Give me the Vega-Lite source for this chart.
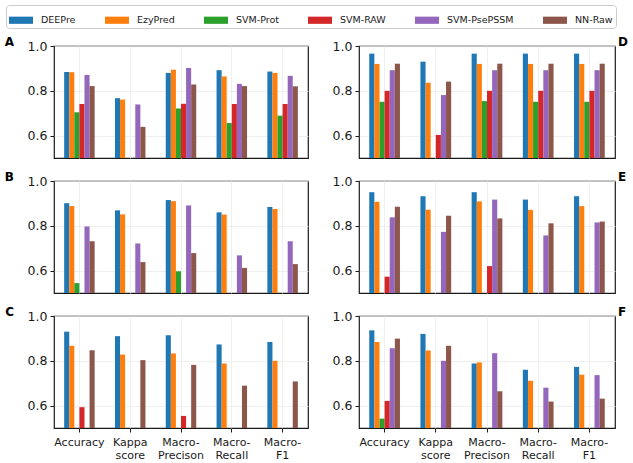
{
  "$schema": "https://vega.github.io/schema/vega-lite/v6.json",
  "description": "Grouped bar panels A-F comparing six enzyme classifiers on five metrics.",
  "padding": {"left": 4, "top": 4, "right": 5, "bottom": 5},
  "background": "white",
  "data": {
    "values": [
      {"panel": "A", "metric": "Accuracy", "model": "DEEPre", "value": 0.884},
      {"panel": "A", "metric": "Accuracy", "model": "EzyPred", "value": 0.883},
      {"panel": "A", "metric": "Accuracy", "model": "SVM-Prot", "value": 0.704},
      {"panel": "A", "metric": "Accuracy", "model": "SVM-RAW", "value": 0.741},
      {"panel": "A", "metric": "Accuracy", "model": "SVM-PsePSSM", "value": 0.871},
      {"panel": "A", "metric": "Accuracy", "model": "NN-Raw", "value": 0.821},
      {"panel": "A", "metric": "Kappa score", "model": "DEEPre", "value": 0.767},
      {"panel": "A", "metric": "Kappa score", "model": "EzyPred", "value": 0.761},
      {"panel": "A", "metric": "Kappa score", "model": "SVM-PsePSSM", "value": 0.739},
      {"panel": "A", "metric": "Kappa score", "model": "NN-Raw", "value": 0.639},
      {"panel": "A", "metric": "Macro-Precison", "model": "DEEPre", "value": 0.880},
      {"panel": "A", "metric": "Macro-Precison", "model": "EzyPred", "value": 0.894},
      {"panel": "A", "metric": "Macro-Precison", "model": "SVM-Prot", "value": 0.721},
      {"panel": "A", "metric": "Macro-Precison", "model": "SVM-RAW", "value": 0.742},
      {"panel": "A", "metric": "Macro-Precison", "model": "SVM-PsePSSM", "value": 0.902},
      {"panel": "A", "metric": "Macro-Precison", "model": "NN-Raw", "value": 0.828},
      {"panel": "A", "metric": "Macro-Recall", "model": "DEEPre", "value": 0.892},
      {"panel": "A", "metric": "Macro-Recall", "model": "EzyPred", "value": 0.864},
      {"panel": "A", "metric": "Macro-Recall", "model": "SVM-Prot", "value": 0.656},
      {"panel": "A", "metric": "Macro-Recall", "model": "SVM-RAW", "value": 0.741},
      {"panel": "A", "metric": "Macro-Recall", "model": "SVM-PsePSSM", "value": 0.831},
      {"panel": "A", "metric": "Macro-Recall", "model": "NN-Raw", "value": 0.821},
      {"panel": "A", "metric": "Macro-F1", "model": "DEEPre", "value": 0.886},
      {"panel": "A", "metric": "Macro-F1", "model": "EzyPred", "value": 0.880},
      {"panel": "A", "metric": "Macro-F1", "model": "SVM-Prot", "value": 0.689},
      {"panel": "A", "metric": "Macro-F1", "model": "SVM-RAW", "value": 0.741},
      {"panel": "A", "metric": "Macro-F1", "model": "SVM-PsePSSM", "value": 0.867},
      {"panel": "A", "metric": "Macro-F1", "model": "NN-Raw", "value": 0.820},

      {"panel": "B", "metric": "Accuracy", "model": "DEEPre", "value": 0.901},
      {"panel": "B", "metric": "Accuracy", "model": "EzyPred", "value": 0.888},
      {"panel": "B", "metric": "Accuracy", "model": "SVM-Prot", "value": 0.544},
      {"panel": "B", "metric": "Accuracy", "model": "SVM-PsePSSM", "value": 0.797},
      {"panel": "B", "metric": "Accuracy", "model": "NN-Raw", "value": 0.731},
      {"panel": "B", "metric": "Kappa score", "model": "DEEPre", "value": 0.869},
      {"panel": "B", "metric": "Kappa score", "model": "EzyPred", "value": 0.851},
      {"panel": "B", "metric": "Kappa score", "model": "SVM-PsePSSM", "value": 0.721},
      {"panel": "B", "metric": "Kappa score", "model": "NN-Raw", "value": 0.638},
      {"panel": "B", "metric": "Macro-Precison", "model": "DEEPre", "value": 0.915},
      {"panel": "B", "metric": "Macro-Precison", "model": "EzyPred", "value": 0.910},
      {"panel": "B", "metric": "Macro-Precison", "model": "SVM-Prot", "value": 0.597},
      {"panel": "B", "metric": "Macro-Precison", "model": "SVM-PsePSSM", "value": 0.891},
      {"panel": "B", "metric": "Macro-Precison", "model": "NN-Raw", "value": 0.678},
      {"panel": "B", "metric": "Macro-Recall", "model": "DEEPre", "value": 0.860},
      {"panel": "B", "metric": "Macro-Recall", "model": "EzyPred", "value": 0.850},
      {"panel": "B", "metric": "Macro-Recall", "model": "SVM-PsePSSM", "value": 0.668},
      {"panel": "B", "metric": "Macro-Recall", "model": "NN-Raw", "value": 0.612},
      {"panel": "B", "metric": "Macro-F1", "model": "DEEPre", "value": 0.884},
      {"panel": "B", "metric": "Macro-F1", "model": "EzyPred", "value": 0.875},
      {"panel": "B", "metric": "Macro-F1", "model": "SVM-PsePSSM", "value": 0.731},
      {"panel": "B", "metric": "Macro-F1", "model": "NN-Raw", "value": 0.629},

      {"panel": "C", "metric": "Accuracy", "model": "DEEPre", "value": 0.930},
      {"panel": "C", "metric": "Accuracy", "model": "EzyPred", "value": 0.867},
      {"panel": "C", "metric": "Accuracy", "model": "SVM-RAW", "value": 0.593},
      {"panel": "C", "metric": "Accuracy", "model": "NN-Raw", "value": 0.847},
      {"panel": "C", "metric": "Kappa score", "model": "DEEPre", "value": 0.910},
      {"panel": "C", "metric": "Kappa score", "model": "EzyPred", "value": 0.828},
      {"panel": "C", "metric": "Kappa score", "model": "NN-Raw", "value": 0.803},
      {"panel": "C", "metric": "Macro-Precison", "model": "DEEPre", "value": 0.914},
      {"panel": "C", "metric": "Macro-Precison", "model": "EzyPred", "value": 0.833},
      {"panel": "C", "metric": "Macro-Precison", "model": "SVM-RAW", "value": 0.554},
      {"panel": "C", "metric": "Macro-Precison", "model": "NN-Raw", "value": 0.782},
      {"panel": "C", "metric": "Macro-Recall", "model": "DEEPre", "value": 0.873},
      {"panel": "C", "metric": "Macro-Recall", "model": "EzyPred", "value": 0.788},
      {"panel": "C", "metric": "Macro-Recall", "model": "NN-Raw", "value": 0.689},
      {"panel": "C", "metric": "Macro-F1", "model": "DEEPre", "value": 0.884},
      {"panel": "C", "metric": "Macro-F1", "model": "EzyPred", "value": 0.800},
      {"panel": "C", "metric": "Macro-F1", "model": "NN-Raw", "value": 0.708},

      {"panel": "D", "metric": "Accuracy", "model": "DEEPre", "value": 0.966},
      {"panel": "D", "metric": "Accuracy", "model": "EzyPred", "value": 0.920},
      {"panel": "D", "metric": "Accuracy", "model": "SVM-Prot", "value": 0.751},
      {"panel": "D", "metric": "Accuracy", "model": "SVM-RAW", "value": 0.800},
      {"panel": "D", "metric": "Accuracy", "model": "SVM-PsePSSM", "value": 0.892},
      {"panel": "D", "metric": "Accuracy", "model": "NN-Raw", "value": 0.921},
      {"panel": "D", "metric": "Kappa score", "model": "DEEPre", "value": 0.930},
      {"panel": "D", "metric": "Kappa score", "model": "EzyPred", "value": 0.836},
      {"panel": "D", "metric": "Kappa score", "model": "SVM-RAW", "value": 0.603},
      {"panel": "D", "metric": "Kappa score", "model": "SVM-PsePSSM", "value": 0.781},
      {"panel": "D", "metric": "Kappa score", "model": "NN-Raw", "value": 0.841},
      {"panel": "D", "metric": "Macro-Precison", "model": "DEEPre", "value": 0.966},
      {"panel": "D", "metric": "Macro-Precison", "model": "EzyPred", "value": 0.920},
      {"panel": "D", "metric": "Macro-Precison", "model": "SVM-Prot", "value": 0.754},
      {"panel": "D", "metric": "Macro-Precison", "model": "SVM-RAW", "value": 0.800},
      {"panel": "D", "metric": "Macro-Precison", "model": "SVM-PsePSSM", "value": 0.892},
      {"panel": "D", "metric": "Macro-Precison", "model": "NN-Raw", "value": 0.921},
      {"panel": "D", "metric": "Macro-Recall", "model": "DEEPre", "value": 0.966},
      {"panel": "D", "metric": "Macro-Recall", "model": "EzyPred", "value": 0.920},
      {"panel": "D", "metric": "Macro-Recall", "model": "SVM-Prot", "value": 0.751},
      {"panel": "D", "metric": "Macro-Recall", "model": "SVM-RAW", "value": 0.800},
      {"panel": "D", "metric": "Macro-Recall", "model": "SVM-PsePSSM", "value": 0.892},
      {"panel": "D", "metric": "Macro-Recall", "model": "NN-Raw", "value": 0.921},
      {"panel": "D", "metric": "Macro-F1", "model": "DEEPre", "value": 0.966},
      {"panel": "D", "metric": "Macro-F1", "model": "EzyPred", "value": 0.920},
      {"panel": "D", "metric": "Macro-F1", "model": "SVM-Prot", "value": 0.751},
      {"panel": "D", "metric": "Macro-F1", "model": "SVM-RAW", "value": 0.800},
      {"panel": "D", "metric": "Macro-F1", "model": "SVM-PsePSSM", "value": 0.892},
      {"panel": "D", "metric": "Macro-F1", "model": "NN-Raw", "value": 0.921},

      {"panel": "E", "metric": "Accuracy", "model": "DEEPre", "value": 0.950},
      {"panel": "E", "metric": "Accuracy", "model": "EzyPred", "value": 0.907},
      {"panel": "E", "metric": "Accuracy", "model": "SVM-RAW", "value": 0.573},
      {"panel": "E", "metric": "Accuracy", "model": "SVM-PsePSSM", "value": 0.838},
      {"panel": "E", "metric": "Accuracy", "model": "NN-Raw", "value": 0.885},
      {"panel": "E", "metric": "Kappa score", "model": "DEEPre", "value": 0.932},
      {"panel": "E", "metric": "Kappa score", "model": "EzyPred", "value": 0.872},
      {"panel": "E", "metric": "Kappa score", "model": "SVM-PsePSSM", "value": 0.773},
      {"panel": "E", "metric": "Kappa score", "model": "NN-Raw", "value": 0.845},
      {"panel": "E", "metric": "Macro-Precison", "model": "DEEPre", "value": 0.950},
      {"panel": "E", "metric": "Macro-Precison", "model": "EzyPred", "value": 0.909},
      {"panel": "E", "metric": "Macro-Precison", "model": "SVM-RAW", "value": 0.620},
      {"panel": "E", "metric": "Macro-Precison", "model": "SVM-PsePSSM", "value": 0.917},
      {"panel": "E", "metric": "Macro-Precison", "model": "NN-Raw", "value": 0.833},
      {"panel": "E", "metric": "Macro-Recall", "model": "DEEPre", "value": 0.917},
      {"panel": "E", "metric": "Macro-Recall", "model": "EzyPred", "value": 0.871},
      {"panel": "E", "metric": "Macro-Recall", "model": "SVM-PsePSSM", "value": 0.757},
      {"panel": "E", "metric": "Macro-Recall", "model": "NN-Raw", "value": 0.811},
      {"panel": "E", "metric": "Macro-F1", "model": "DEEPre", "value": 0.932},
      {"panel": "E", "metric": "Macro-F1", "model": "EzyPred", "value": 0.888},
      {"panel": "E", "metric": "Macro-F1", "model": "SVM-PsePSSM", "value": 0.815},
      {"panel": "E", "metric": "Macro-F1", "model": "NN-Raw", "value": 0.819},

      {"panel": "F", "metric": "Accuracy", "model": "DEEPre", "value": 0.936},
      {"panel": "F", "metric": "Accuracy", "model": "EzyPred", "value": 0.884},
      {"panel": "F", "metric": "Accuracy", "model": "SVM-Prot", "value": 0.542},
      {"panel": "F", "metric": "Accuracy", "model": "SVM-RAW", "value": 0.621},
      {"panel": "F", "metric": "Accuracy", "model": "SVM-PsePSSM", "value": 0.856},
      {"panel": "F", "metric": "Accuracy", "model": "NN-Raw", "value": 0.899},
      {"panel": "F", "metric": "Kappa score", "model": "DEEPre", "value": 0.920},
      {"panel": "F", "metric": "Kappa score", "model": "EzyPred", "value": 0.846},
      {"panel": "F", "metric": "Kappa score", "model": "SVM-PsePSSM", "value": 0.800},
      {"panel": "F", "metric": "Kappa score", "model": "NN-Raw", "value": 0.867},
      {"panel": "F", "metric": "Macro-Precison", "model": "DEEPre", "value": 0.788},
      {"panel": "F", "metric": "Macro-Precison", "model": "EzyPred", "value": 0.793},
      {"panel": "F", "metric": "Macro-Precison", "model": "SVM-PsePSSM", "value": 0.834},
      {"panel": "F", "metric": "Macro-Precison", "model": "NN-Raw", "value": 0.664},
      {"panel": "F", "metric": "Macro-Recall", "model": "DEEPre", "value": 0.760},
      {"panel": "F", "metric": "Macro-Recall", "model": "EzyPred", "value": 0.711},
      {"panel": "F", "metric": "Macro-Recall", "model": "SVM-PsePSSM", "value": 0.680},
      {"panel": "F", "metric": "Macro-Recall", "model": "NN-Raw", "value": 0.618},
      {"panel": "F", "metric": "Macro-F1", "model": "DEEPre", "value": 0.773},
      {"panel": "F", "metric": "Macro-F1", "model": "EzyPred", "value": 0.738},
      {"panel": "F", "metric": "Macro-F1", "model": "SVM-PsePSSM", "value": 0.736},
      {"panel": "F", "metric": "Macro-F1", "model": "NN-Raw", "value": 0.631}
    ]
  },
  "columns": 2,
  "spacing": {"row": 23, "column": 51},
  "bounds": "flush",
  "concat": [
    {
      "title": {"text": "A", "anchor": "start", "align": "right", "dx": -40, "dy": 13},
      "transform": [{"filter": "datum.panel == 'A'"}],
      "width": 254, "height": 112,
      "mark": {"type": "bar"},
      "encoding": {
        "x": {"field": "metric", "type": "nominal", "sort": ["Accuracy", "Kappa score", "Macro-Precison", "Macro-Recall", "Macro-F1"], "scale": {"paddingInner": 0.4, "paddingOuter": 0.2}, "axis": {"labels": false, "ticks": false}, "title": null},
        "xOffset": {"field": "model", "type": "nominal", "scale": {"domain": ["DEEPre", "EzyPred", "SVM-Prot", "SVM-RAW", "SVM-PsePSSM", "NN-Raw"], "paddingInner": 0, "paddingOuter": 0}},
        "y": {"field": "value", "type": "quantitative", "scale": {"domain": [0.5, 1.0]}, "axis": {"values": [0.6, 0.8, 1.0], "format": ".1f"}, "title": null},
        "y2": {"datum": 0.5},
        "color": {"field": "model", "type": "nominal", "scale": {"domain": ["DEEPre", "EzyPred", "SVM-Prot", "SVM-RAW", "SVM-PsePSSM", "NN-Raw"], "range": ["#1f77b4", "#ff7f0e", "#2ca02c", "#d62728", "#9467bd", "#8c564b"]}, "legend": {"title": null}}
      }
    },
    {
      "title": {"text": "D", "anchor": "end", "align": "left", "dx": 3, "dy": 13},
      "transform": [{"filter": "datum.panel == 'D'"}],
      "width": 256, "height": 112,
      "mark": {"type": "bar"},
      "encoding": {
        "x": {"field": "metric", "type": "nominal", "sort": ["Accuracy", "Kappa score", "Macro-Precison", "Macro-Recall", "Macro-F1"], "scale": {"paddingInner": 0.4, "paddingOuter": 0.2}, "axis": {"labels": false, "ticks": false}, "title": null},
        "xOffset": {"field": "model", "type": "nominal", "scale": {"domain": ["DEEPre", "EzyPred", "SVM-Prot", "SVM-RAW", "SVM-PsePSSM", "NN-Raw"], "paddingInner": 0, "paddingOuter": 0}},
        "y": {"field": "value", "type": "quantitative", "scale": {"domain": [0.5, 1.0]}, "axis": {"values": [0.6, 0.8, 1.0], "format": ".1f"}, "title": null},
        "y2": {"datum": 0.5},
        "color": {"field": "model", "type": "nominal", "legend": {"title": null}}
      }
    },
    {
      "title": {"text": "B", "anchor": "start", "align": "right", "dx": -40, "dy": 13},
      "transform": [{"filter": "datum.panel == 'B'"}],
      "width": 254, "height": 112,
      "mark": {"type": "bar"},
      "encoding": {
        "x": {"field": "metric", "type": "nominal", "sort": ["Accuracy", "Kappa score", "Macro-Precison", "Macro-Recall", "Macro-F1"], "scale": {"paddingInner": 0.4, "paddingOuter": 0.2}, "axis": {"labels": false, "ticks": false}, "title": null},
        "xOffset": {"field": "model", "type": "nominal", "scale": {"domain": ["DEEPre", "EzyPred", "SVM-Prot", "SVM-RAW", "SVM-PsePSSM", "NN-Raw"], "paddingInner": 0, "paddingOuter": 0}},
        "y": {"field": "value", "type": "quantitative", "scale": {"domain": [0.5, 1.0]}, "axis": {"values": [0.6, 0.8, 1.0], "format": ".1f"}, "title": null},
        "y2": {"datum": 0.5},
        "color": {"field": "model", "type": "nominal", "legend": {"title": null}}
      }
    },
    {
      "title": {"text": "E", "anchor": "end", "align": "left", "dx": 3, "dy": 13},
      "transform": [{"filter": "datum.panel == 'E'"}],
      "width": 256, "height": 112,
      "mark": {"type": "bar"},
      "encoding": {
        "x": {"field": "metric", "type": "nominal", "sort": ["Accuracy", "Kappa score", "Macro-Precison", "Macro-Recall", "Macro-F1"], "scale": {"paddingInner": 0.4, "paddingOuter": 0.2}, "axis": {"labels": false, "ticks": false}, "title": null},
        "xOffset": {"field": "model", "type": "nominal", "scale": {"domain": ["DEEPre", "EzyPred", "SVM-Prot", "SVM-RAW", "SVM-PsePSSM", "NN-Raw"], "paddingInner": 0, "paddingOuter": 0}},
        "y": {"field": "value", "type": "quantitative", "scale": {"domain": [0.5, 1.0]}, "axis": {"values": [0.6, 0.8, 1.0], "format": ".1f"}, "title": null},
        "y2": {"datum": 0.5},
        "color": {"field": "model", "type": "nominal", "legend": {"title": null}}
      }
    },
    {
      "title": {"text": "C", "anchor": "start", "align": "right", "dx": -40, "dy": 13},
      "transform": [{"filter": "datum.panel == 'C'"}],
      "width": 254, "height": 112,
      "mark": {"type": "bar"},
      "encoding": {
        "x": {"field": "metric", "type": "nominal", "sort": ["Accuracy", "Kappa score", "Macro-Precison", "Macro-Recall", "Macro-F1"], "scale": {"paddingInner": 0.4, "paddingOuter": 0.2}, "axis": {"labelExpr": "datum.value == 'Kappa score' ? ['Kappa', 'score'] : (indexof(datum.value, 'Macro-') == 0 ? ['Macro-', substring(datum.value, 6)] : datum.value)"}, "title": null},
        "xOffset": {"field": "model", "type": "nominal", "scale": {"domain": ["DEEPre", "EzyPred", "SVM-Prot", "SVM-RAW", "SVM-PsePSSM", "NN-Raw"], "paddingInner": 0, "paddingOuter": 0}},
        "y": {"field": "value", "type": "quantitative", "scale": {"domain": [0.5, 1.0]}, "axis": {"values": [0.6, 0.8, 1.0], "format": ".1f"}, "title": null},
        "y2": {"datum": 0.5},
        "color": {"field": "model", "type": "nominal", "legend": {"title": null}}
      }
    },
    {
      "title": {"text": "F", "anchor": "end", "align": "left", "dx": 3, "dy": 13},
      "transform": [{"filter": "datum.panel == 'F'"}],
      "width": 256, "height": 112,
      "mark": {"type": "bar"},
      "encoding": {
        "x": {"field": "metric", "type": "nominal", "sort": ["Accuracy", "Kappa score", "Macro-Precison", "Macro-Recall", "Macro-F1"], "scale": {"paddingInner": 0.4, "paddingOuter": 0.2}, "axis": {"labelExpr": "datum.value == 'Kappa score' ? ['Kappa', 'score'] : (indexof(datum.value, 'Macro-') == 0 ? ['Macro-', substring(datum.value, 6)] : datum.value)"}, "title": null},
        "xOffset": {"field": "model", "type": "nominal", "scale": {"domain": ["DEEPre", "EzyPred", "SVM-Prot", "SVM-RAW", "SVM-PsePSSM", "NN-Raw"], "paddingInner": 0, "paddingOuter": 0}},
        "y": {"field": "value", "type": "quantitative", "scale": {"domain": [0.5, 1.0]}, "axis": {"values": [0.6, 0.8, 1.0], "format": ".1f"}, "title": null},
        "y2": {"datum": 0.5},
        "color": {"field": "model", "type": "nominal", "legend": {"title": null}}
      }
    }
  ],
  "resolve": {"scale": {"x": "independent", "y": "independent", "xOffset": "independent"}},
  "config": {
    "font": "DejaVu Sans",
    "view": {"stroke": "#1a1a1a", "strokeWidth": 1.2},
    "axis": {
      "domain": false,
      "grid": true,
      "gridColor": "#ebebeb",
      "gridWidth": 0.8,
      "labelFont": "DejaVu Sans",
      "labelColor": "#1a1a1a",
      "tickColor": "#1a1a1a",
      "tickSize": 4
    },
    "axisY": {"labelFontSize": 12.5, "labelPadding": 3},
    "axisX": {"labelFontSize": 11, "labelAngle": 0, "labelPadding": 4, "labelLineHeight": 13, "labelBaseline": "top"},
    "title": {
      "font": "DejaVu Sans",
      "fontSize": 12,
      "fontWeight": "bold",
      "color": "#000000",
      "frame": "group",
      "baseline": "middle",
      "offset": 0
    },
    "legend": {
      "orient": "none",
      "legendX": -48,
      "legendY": -41,
      "direction": "horizontal",
      "columns": 6,
      "columnPadding": 29,
      "padding": 3,
      "fillColor": "#ffffff",
      "strokeColor": "#cccccc",
      "cornerRadius": 3,
      "symbolType": "M-1,-0.3H1V0.3H-1Z",
      "symbolSize": 576,
      "symbolStrokeWidth": 0,
      "symbolOpacity": 1,
      "labelFont": "DejaVu Sans",
      "labelFontSize": 9.5,
      "labelOffset": 8,
      "labelColor": "#1a1a1a"
    }
  }
}
